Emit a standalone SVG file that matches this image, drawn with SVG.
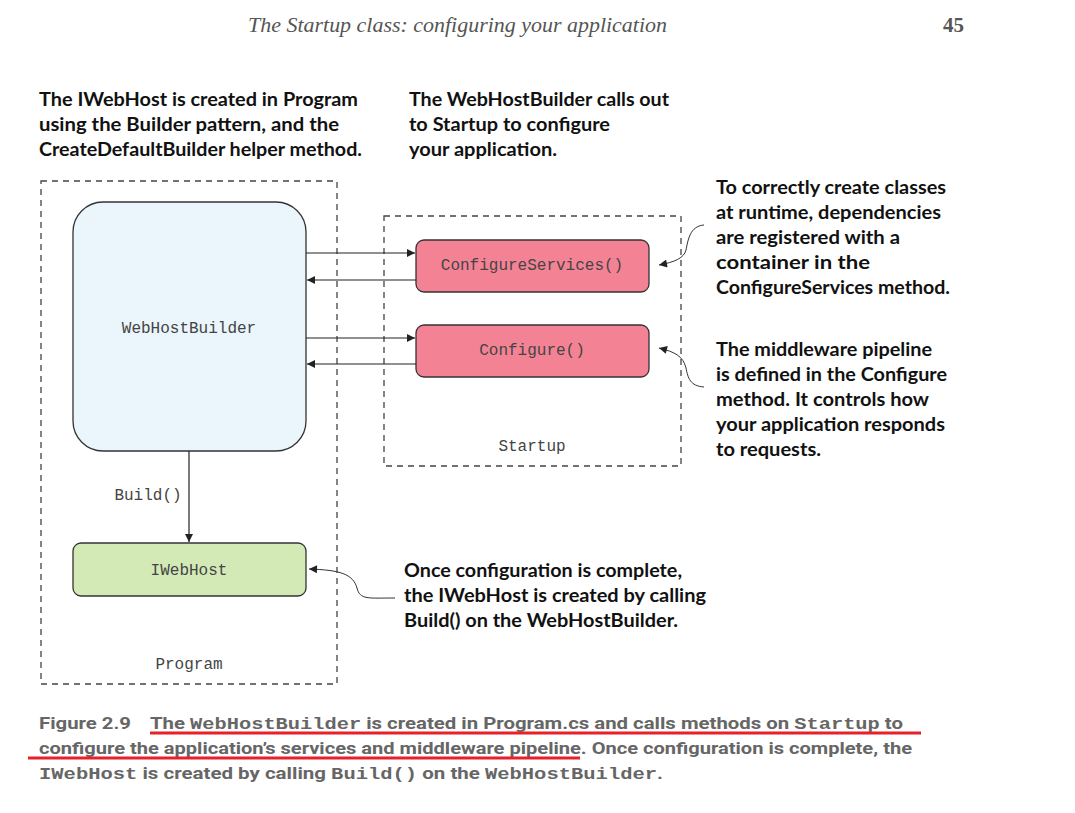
<svg xmlns="http://www.w3.org/2000/svg" width="1075" height="813" viewBox="0 0 1075 813">
<defs>
<marker id="ah" viewBox="0 0 10 10" refX="10" refY="5" markerWidth="12" markerHeight="8" markerUnits="userSpaceOnUse" orient="auto">
<path d="M0,0 L10,5 L0,10 Z" fill="#222"/>
</marker>
<style>
.dash{fill:none;stroke:#444;stroke-width:1.3;stroke-dasharray:6,5}
.box{stroke:#333;stroke-width:1.3}
.mono{font-family:"Liberation Mono","DejaVu Sans Mono",monospace;font-size:16px;fill:#444}
.ann{font-family:"Lato","Open Sans",sans-serif;font-weight:bold;font-size:19px;fill:#111}
.con{fill:none;stroke:#222;stroke-width:1.2}
.cur{fill:none;stroke:#333;stroke-width:1}
.cap{font-family:"Roboto","Liberation Sans",sans-serif;font-weight:bold;font-size:17px;fill:#666}
.capm{font-family:"Liberation Mono",monospace;font-weight:bold;font-size:17px;fill:#666}
.ul{stroke:#e8202a;stroke-width:3}
</style>
</defs>
<rect width="1075" height="813" fill="#fff"/>
<text x="248" y="32" font-family="Liberation Serif,serif" font-style="italic" font-size="21" fill="#555" textLength="419" lengthAdjust="spacingAndGlyphs">The Startup class: configuring your application</text>
<text x="943" y="32" font-family="Liberation Serif,serif" font-weight="bold" font-size="21" fill="#555">45</text>

<g id="annotations">
<text class="ann" x="39" y="106" textLength="319" lengthAdjust="spacingAndGlyphs">The IWebHost is created in Program</text>
<text class="ann" x="39" y="131" textLength="300" lengthAdjust="spacingAndGlyphs">using the Builder pattern, and the</text>
<text class="ann" x="39" y="156" textLength="323" lengthAdjust="spacingAndGlyphs">CreateDefaultBuilder helper method.</text>
<text class="ann" x="409" y="106" textLength="260" lengthAdjust="spacingAndGlyphs">The WebHostBuilder calls out</text>
<text class="ann" x="409" y="131" textLength="201" lengthAdjust="spacingAndGlyphs">to Startup to configure</text>
<text class="ann" x="409" y="156" textLength="148" lengthAdjust="spacingAndGlyphs">your application.</text>
<text class="ann" x="716" y="194" textLength="230" lengthAdjust="spacingAndGlyphs">To correctly create classes</text>
<text class="ann" x="716" y="219" textLength="225" lengthAdjust="spacingAndGlyphs">at runtime, dependencies</text>
<text class="ann" x="716" y="244" textLength="184" lengthAdjust="spacingAndGlyphs">are registered with a</text>
<text class="ann" x="716" y="269" textLength="154" lengthAdjust="spacingAndGlyphs">container in the</text>
<text class="ann" x="716" y="294" textLength="234" lengthAdjust="spacingAndGlyphs">ConfigureServices method.</text>
<text class="ann" x="716" y="356" textLength="216" lengthAdjust="spacingAndGlyphs">The middleware pipeline</text>
<text class="ann" x="716" y="381" textLength="231" lengthAdjust="spacingAndGlyphs">is defined in the Configure</text>
<text class="ann" x="716" y="406" textLength="213" lengthAdjust="spacingAndGlyphs">method. It controls how</text>
<text class="ann" x="716" y="431" textLength="229" lengthAdjust="spacingAndGlyphs">your application responds</text>
<text class="ann" x="716" y="456" textLength="105" lengthAdjust="spacingAndGlyphs">to requests.</text>
<text class="ann" x="404" y="577" textLength="278" lengthAdjust="spacingAndGlyphs">Once configuration is complete,</text>
<text class="ann" x="404" y="602" textLength="302" lengthAdjust="spacingAndGlyphs">the IWebHost is created by calling</text>
<text class="ann" x="404" y="627" textLength="274" lengthAdjust="spacingAndGlyphs">Build() on the WebHostBuilder.</text>
</g>

<g id="program">
<rect class="dash" x="41" y="181" width="296" height="503"/>
<text class="mono" x="189" y="669" text-anchor="middle">Program</text>
</g>
<g id="startup">
<rect class="dash" x="384" y="216" width="297" height="250"/>
<text class="mono" x="532" y="451" text-anchor="middle">Startup</text>
</g>
<g id="webhostbuilder">
<rect class="box" x="73" y="202" width="233" height="249" rx="30" fill="#eaf5fc"/>
<text class="mono" x="189" y="333" text-anchor="middle">WebHostBuilder</text>
</g>
<g id="configureservices">
<rect class="box" x="416" y="240" width="233" height="52" rx="8" fill="#f48295"/>
<text class="mono" x="532" y="270" text-anchor="middle">ConfigureServices()</text>
</g>
<g id="configure">
<rect class="box" x="416" y="325" width="233" height="52" rx="8" fill="#f48295"/>
<text class="mono" x="532" y="355" text-anchor="middle">Configure()</text>
</g>
<g id="iwebhost">
<rect class="box" x="73" y="543" width="233" height="53" rx="8" fill="#d3eab7"/>
<text class="mono" x="189" y="575" text-anchor="middle">IWebHost</text>
</g>

<g id="connectors">
<line class="con" x1="306" y1="253" x2="415" y2="253" marker-end="url(#ah)"/>
<line class="con" x1="416" y1="280" x2="307" y2="280" marker-end="url(#ah)"/>
<line class="con" x1="306" y1="338" x2="415" y2="338" marker-end="url(#ah)"/>
<line class="con" x1="416" y1="364" x2="307" y2="364" marker-end="url(#ah)"/>
<line class="con" x1="189" y1="451" x2="189" y2="542" marker-end="url(#ah)"/>
<text class="mono" x="148" y="500" text-anchor="middle">Build()</text>
<path class="cur" d="M704,225 C690,226 688,240 686,250 C684,258 675,262 659,265" marker-end="url(#ah)"/>
<path class="cur" d="M704,387 C690,386 688,378 686,368 C683,356 675,352 659,348" marker-end="url(#ah)"/>
<path class="cur" d="M395,598 C368,598 360,600 357,588 C353,574 340,570 309,569" marker-end="url(#ah)"/>
</g>

<g id="caption">
<text class="cap" x="39" y="729" textLength="92" lengthAdjust="spacingAndGlyphs">Figure 2.9</text>
<text class="cap" x="150" y="729" textLength="753" lengthAdjust="spacingAndGlyphs">The <tspan class="capm">WebHostBuilder</tspan> is created in Program.cs and calls methods on <tspan class="capm">Startup</tspan> to</text>
<text class="cap" x="39" y="754" textLength="873" lengthAdjust="spacingAndGlyphs">configure the application’s services and middleware pipeline. Once configuration is complete, the</text>
<text class="cap" x="39" y="779" textLength="624" lengthAdjust="spacingAndGlyphs"><tspan class="capm">IWebHost</tspan> is created by calling <tspan class="capm">Build()</tspan> on the <tspan class="capm">WebHostBuilder</tspan>.</text>
<line class="ul" x1="150" y1="733" x2="921" y2="733"/>
<line class="ul" x1="28" y1="758" x2="580" y2="758"/>
</g>
</svg>
